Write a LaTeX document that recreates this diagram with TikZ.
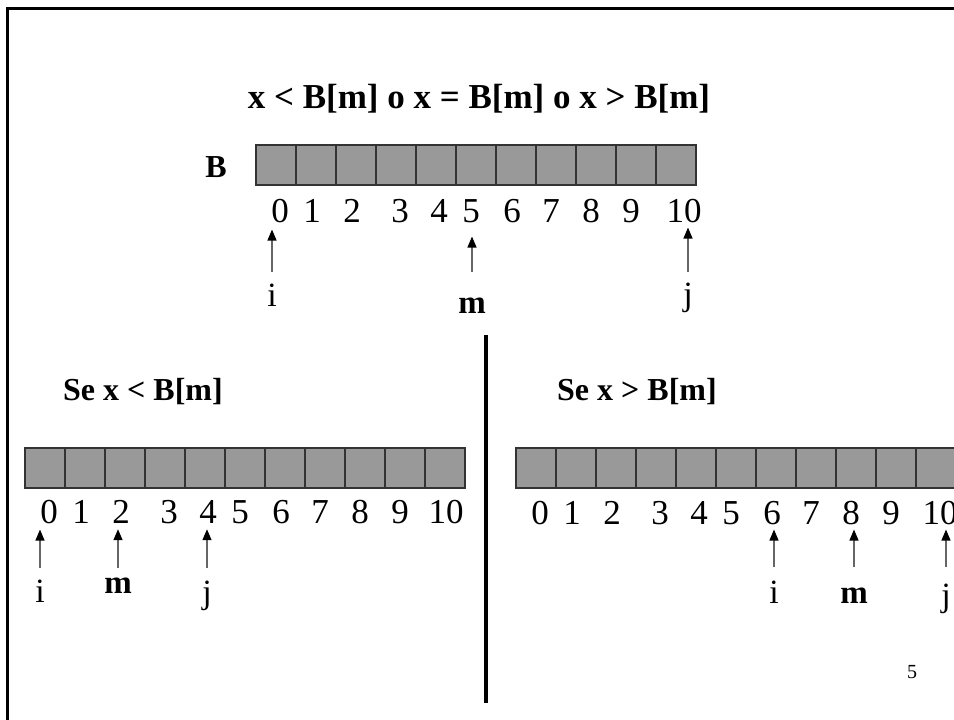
\documentclass[tikz,border=0pt]{standalone}
\usepackage{fontspec}
\setmainfont{Liberation Serif}
\usetikzlibrary{arrows.meta,positioning}

\begin{document}
\begin{tikzpicture}[
    x=1pt, y=-1pt,
    cell/.style={rectangle, draw=black!80, line width=1.2pt, fill=black!40, minimum width=40pt, minimum height=40pt, inner sep=0pt},
    idx/.style={anchor=base, inner sep=0pt, font=\fontsize{35}{40}\selectfont},
    var/.style={anchor=base, inner sep=0pt, font=\fontsize{34}{38}\selectfont},
    bvar/.style={var, font=\bfseries\fontsize{33}{38}\selectfont},
    head/.style={anchor=base west, inner sep=0pt, font=\bfseries\fontsize{32}{38}\selectfont},
    ptr/.style={-{Triangle[length=11pt, width=9pt, black]}, line width=1.2pt, draw=black!60},
]
\useasboundingbox (0,0) rectangle (954,720);
% MARCO
\draw[line width=3pt] (7,720) -- (7,8) -- (954,8);
\draw[line width=4pt] (486,335) -- (486,703);
\node[anchor=base, inner sep=0pt, font=\bfseries\fontsize{35}{40}\selectfont] (title) at (479,108) {x < B[m] o x = B[m] o x > B[m]};
\node[anchor=base, font=\fontsize{20}{24}\selectfont] (pg) at (912,678) {5};
% VETOR B
\begin{scope}[shift={(256,0)}]
    \node[anchor=base, inner sep=0pt, font=\bfseries\fontsize{32}{38}\selectfont] (lblB) at (-40,177) {B};
    \foreach \k in {0,...,10}
        \node[cell] (Tc\k) at (20+40*\k,165) {};
    \foreach \k/\o in {0/24,1/56,2/96,3/144,4/183,5/215,6/256,7/295,8/335,9/375,10/428}
        \node[idx] (Tn\k) at (\o,222) {\k};
    \coordinate (Ttail) at (0,272);
    \node[var] (Ti) at (16,306) {i};
    \node[bvar] (Tm) at (216,313) {m};
    \node[var] (Tj) at (432,305) {j};
    % Ponteiros
    \draw[ptr, shorten >=7pt] (Ti |- Ttail) -- (Ti |- Tn0.south);
    \draw[ptr, shorten >=14pt] (Tm |- Ttail) -- (Tm |- Tn5.south);
    \draw[ptr, shorten >=5pt] (Tj |- Ttail) -- (Tj |- Tn10.south);
\end{scope}
% SE x < B[m]
\begin{scope}[shift={(25,0)}]
    \node[head] (hdL) at (38,400) {Se x < B[m]};
    \foreach \k in {0,...,10}
        \node[cell] (Lc\k) at (20+40*\k,468) {};
    \foreach \k/\o in {0/24,1/56,2/96,3/144,4/183,5/215,6/256,7/295,8/335,9/375,10/421}
        \node[idx] (Ln\k) at (\o,523) {\k};
    \coordinate (Ltail) at (0,568);
    \node[var] (Li) at (15,602) {i};
    \node[bvar] (Lm) at (93,593) {m};
    \node[var] (Lj) at (182,603) {j};
    % Ponteiros
    \draw[ptr, shorten >=6pt] (Li |- Ltail) -- (Li |- Ln0.south);
    \draw[ptr, shorten >=6pt] (Lm |- Ltail) -- (Lm |- Ln2.south);
    \draw[ptr, shorten >=6pt] (Lj |- Ltail) -- (Lj |- Ln4.south);
\end{scope}
% SE x > B[m]
\begin{scope}[shift={(516,0)}]
    \node[head] (hdR) at (41,400) {Se x > B[m]};
    \foreach \k in {0,...,10}
        \node[cell] (Rc\k) at (20+40*\k,468) {};
    \foreach \k/\o in {0/24,1/56,2/96,3/144,4/183,5/215,6/256,7/295,8/335,9/375,10/424}
        \node[idx] (Rn\k) at (\o,524) {\k};
    \coordinate (Rtail) at (0,567);
    \node[var] (Ri) at (258,603) {i};
    \node[bvar] (Rm) at (338,603) {m};
    \node[var] (Rj) at (430,606) {j};
    % Ponteiros
    \draw[ptr, shorten >=5pt] (Ri |- Rtail) -- (Ri |- Rn6.south);
    \draw[ptr, shorten >=5pt] (Rm |- Rtail) -- (Rm |- Rn8.south);
    \draw[ptr, shorten >=5pt] (Rj |- Rtail) -- (Rj |- Rn10.south);
\end{scope}
\end{tikzpicture}
\end{document}
